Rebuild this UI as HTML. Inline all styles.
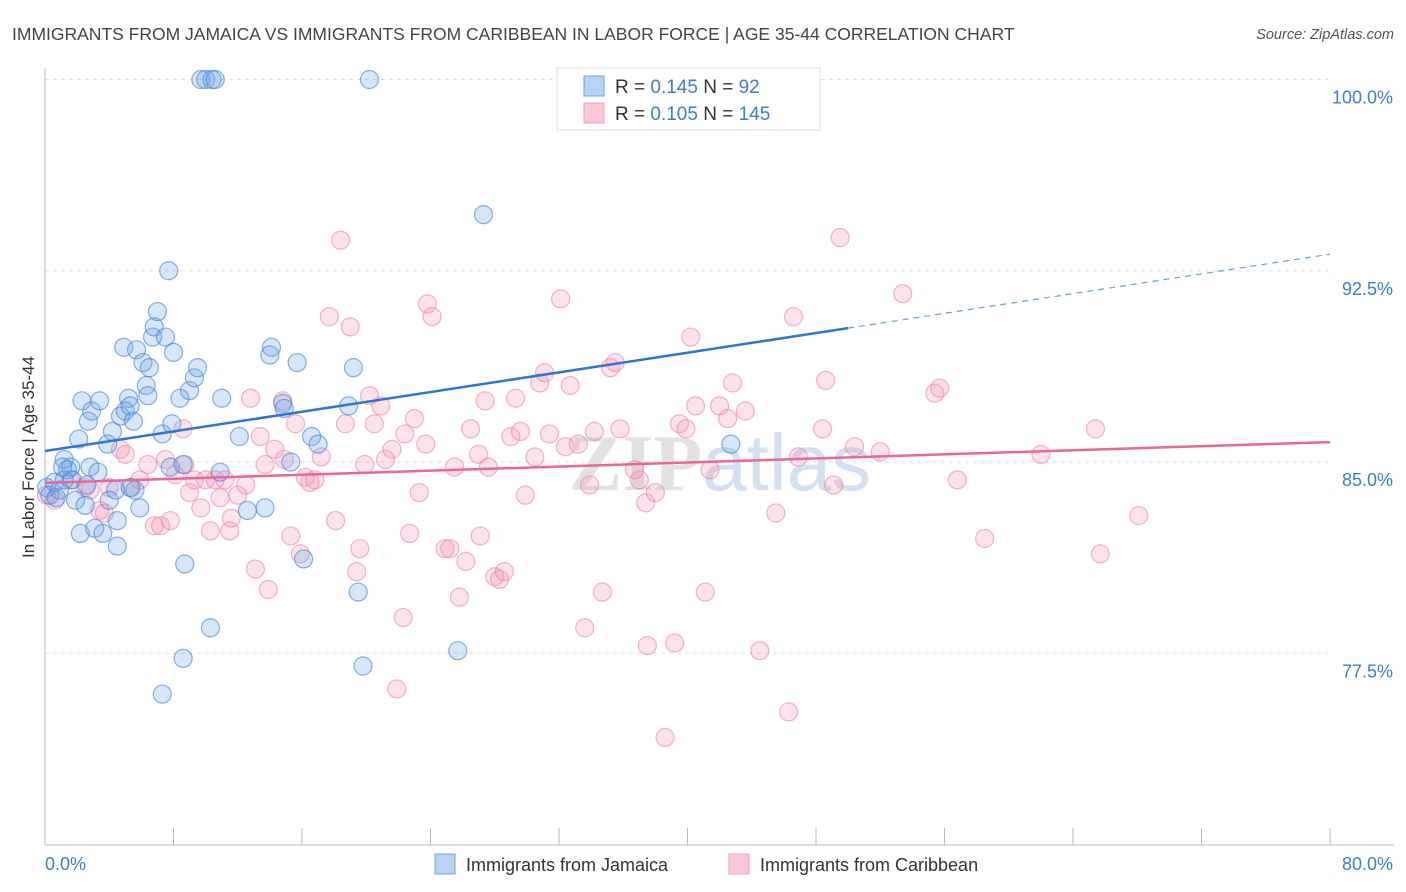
<!DOCTYPE html>
<html><head><meta charset="utf-8"><style>
body{margin:0;background:#fff;font-family:"Liberation Sans",sans-serif}
svg{display:block}
</style></head><body>
<svg id="chart" width="1406" height="892" xmlns="http://www.w3.org/2000/svg">
<text x="12" y="40" font-size="17.5" fill="#444">IMMIGRANTS FROM JAMAICA VS IMMIGRANTS FROM CARIBBEAN IN LABOR FORCE | AGE 35-44 CORRELATION CHART</text>
<text x="1394" y="39" font-size="14.5" fill="#555" text-anchor="end" font-style="italic">Source: ZipAtlas.com</text>
<text x="720" y="490" font-size="80" fill="#e2e2e2" text-anchor="middle" font-family="Liberation Serif" font-weight="bold">ZIP<tspan fill="#d2e0f2" font-family="Liberation Sans" font-weight="normal">atlas</tspan></text>
<g id="grid"></g>
<g id="axes"></g>
<g id="pts"></g>
<g id="trend"></g>
<text transform="translate(34,457) rotate(-90)" font-size="17" fill="#333" text-anchor="middle">In Labor Force | Age 35-44</text>
<g>
<rect x="557" y="68" width="263" height="62" fill="#fff" stroke="#ddd"/>
<rect x="584" y="76" width="20" height="20" fill="#b8d4f4" stroke="#6fa4e2"/>
<rect x="584" y="103" width="20" height="20" fill="#fcc8d6" stroke="#f0a0b8"/>
<text x="615" y="93" font-size="19" fill="#333">R = <tspan fill="#3d7bd6">0.145</tspan>   N = <tspan fill="#3d7bd6">  92</tspan></text>
<text x="615" y="120" font-size="19" fill="#333">R = <tspan fill="#3d7bd6">0.105</tspan>   N = <tspan fill="#3d7bd6">145</tspan></text>
</g>
<g>
<rect x="435" y="854" width="20" height="20" fill="#b8d4f4" stroke="#6fa4e2"/>
<text x="466" y="871" font-size="18" fill="#333">Immigrants from Jamaica</text>
<rect x="729" y="854" width="20" height="20" fill="#fcc8d6" stroke="#f0a0b8"/>
<text x="760" y="871" font-size="18" fill="#333">Immigrants from Caribbean</text>
</g>
</svg>
<script>
const jamX=[0.1,0.3,0.6,0.9,1.2,1.4,1.6,1.7,1.9,2.1,2.2,2.3,2.5,2.7,2.8,2.9,3.1,3.3,3.4,3.6,3.9,4.0,4.2,4.4,4.5,4.5,4.7,4.9,5.0,5.2,5.3,5.5,5.6,5.7,5.9,6.1,6.3,6.4,6.5,6.7,6.8,7.0,7.3,7.3,7.5,7.7,7.8,7.9,8.0,8.4,8.6,8.7,9.0,9.3,9.5,9.7,10.0,10.3,10.4,10.6,10.9,11.0,12.1,12.6,13.7,14.0,14.1,14.8,14.9,15.3,15.7,16.1,16.6,17.0,18.9,19.2,19.5,19.8,20.2,25.7,27.3,42.7,8.6,0.7,1.2,5.3,1.1,2.6];
const jamY=[84.0,83.7,84.2,83.9,85.1,84.7,84.8,84.3,83.5,85.9,82.2,87.4,83.3,86.6,84.8,87.0,82.4,84.6,87.4,82.2,85.7,83.5,86.2,83.9,82.7,81.7,86.8,89.5,87.0,87.5,87.2,86.6,83.9,89.4,83.2,88.9,88.0,87.6,88.7,89.9,90.3,90.9,86.1,75.9,89.9,92.5,84.8,86.5,89.3,87.5,84.9,81.0,87.8,88.3,88.7,100,100,78.5,100,100,84.6,87.5,86.0,83.1,83.2,89.2,89.5,87.3,87.1,85.0,88.9,81.2,86.0,85.7,87.2,88.7,79.9,77.0,100,77.6,94.7,85.7,77.3,83.6,84.3,84.0,84.8,84.1];
const carX=[0.1,0.6,1.6,2.5,2.8,3.4,3.7,4.0,4.7,5.0,5.4,5.9,6.4,6.8,7.2,7.5,7.8,8.1,8.6,8.7,9.0,9.3,9.7,10.0,10.3,10.6,10.9,11.2,11.5,11.6,12.0,12.5,12.8,13.1,13.4,13.7,13.9,14.3,14.8,14.9,15.3,15.6,15.9,16.2,16.5,16.8,17.2,17.7,18.1,18.4,18.7,19.0,19.4,19.6,19.9,20.2,20.5,20.9,21.2,21.6,21.9,22.3,22.4,22.7,23.0,23.3,23.7,23.8,24.1,24.9,25.2,25.5,25.8,26.2,26.5,27.0,27.1,27.4,27.6,28.0,28.3,28.6,29.0,29.3,29.6,29.9,30.5,30.8,31.1,31.4,32.1,32.4,32.7,33.2,33.6,33.9,34.2,34.7,35.2,35.5,35.8,36.7,37.0,37.4,37.5,38.0,38.6,39.2,39.5,39.9,40.2,40.5,41.1,41.4,42.0,42.5,42.8,43.6,44.5,45.5,46.3,46.6,46.9,48.4,48.6,49.1,49.5,50.4,52.0,53.4,55.4,55.7,56.8,58.5,62.0,65.4,65.7,68.1];
const carY=[83.7,83.5,84.3,84.0,83.9,83.1,83.0,84.0,85.5,85.3,84.0,84.3,84.9,82.5,82.5,85.1,82.7,84.5,86.3,84.9,83.8,84.3,83.2,84.3,82.3,84.3,83.6,84.3,82.3,82.8,83.7,84.1,87.5,80.8,86.0,84.9,80.0,85.5,87.4,85.1,82.1,86.5,81.4,84.4,84.2,84.3,85.2,90.7,82.7,93.7,86.5,90.3,80.7,81.6,84.9,87.6,86.5,87.2,85.1,85.5,76.1,78.9,86.1,82.2,86.7,83.8,85.7,91.2,90.7,81.6,81.6,84.8,79.7,81.1,86.3,85.3,82.1,87.4,84.8,80.5,80.4,80.7,86.0,87.5,86.2,83.7,85.2,88.1,88.5,86.1,91.4,85.6,88.0,85.7,78.5,84.1,86.2,79.9,88.7,88.9,86.3,84.7,84.3,83.4,77.8,83.8,74.2,77.9,86.5,86.3,89.9,87.2,79.9,84.7,87.2,86.7,88.1,87.0,77.6,83.0,75.2,90.7,85.2,86.3,88.2,84.1,93.8,85.6,85.4,91.6,87.7,87.9,84.3,82.0,85.3,86.3,81.4,82.9];
const yTicks=[100,92.5,85,77.5];
const yTickLabels=["100.0%","92.5%","85.0%","77.5%"];
const xTicks=[0,8,16,24,32,40,48,56,64,72,80];
const xTickLabels=["0.0%","80.0%"];
const jamTrend=[85.43,90.25,93.15]; // at x=0, x=50 (solid end), x=80
const carTrend=[84.18,85.78]; // at x=0, x=80

const NS="http://www.w3.org/2000/svg";
const X0=45,X1=1330,YTOP=79.5,PX_PER=25.5;
const sx=v=>X0+(v/80)*(X1-X0);
const sy=v=>YTOP+(100-v)*PX_PER;
function mk(tag,attrs,parent){const e=document.createElementNS(NS,tag);for(const k in attrs)e.setAttribute(k,attrs[k]);parent.appendChild(e);return e;}
const grid=document.getElementById('grid'),axes=document.getElementById('axes'),pts=document.getElementById('pts'),trend=document.getElementById('trend');
yTicks.forEach((t,i)=>{
  const l=mk('line',{x1:X0,x2:X1,y1:sy(t),y2:sy(t),stroke:'#ddd','stroke-dasharray':'4,4'},grid);
  
  
  const tx=mk('text',{x:1393,y:sy(t)+24,'font-size':18,fill:'#3d7bd6','text-anchor':'end'},grid);
  tx.textContent=yTickLabels[i];
  
  
});
const ya=mk('line',{x1:X0,x2:X0,y1:68,y2:845,stroke:'#bbb'},axes);


const xa=mk('line',{x1:X0,x2:1394,y1:845,y2:845,stroke:'#bbb'},axes);


xTicks.forEach(t=>{
  const l=mk('line',{x1:sx(t),x2:sx(t),y1:828,y2:845,stroke:'#bbb'},axes);
  
  
});
const xl0=mk('text',{x:45,y:870,'font-size':18,fill:'#3d7bd6'},axes);xl0.textContent=xTickLabels[0];


const xl1=mk('text',{x:1393,y:870,'font-size':18,fill:'#3d7bd6','text-anchor':'end'},axes);xl1.textContent=xTickLabels[1];


carX.forEach((x,i)=>{
  const c=mk('circle',{cx:sx(x),cy:sy(carY[i]),r:9,fill:'rgba(244,150,182,0.28)',stroke:'rgba(236,130,165,0.6)','stroke-width':1.2},pts);
  
  
});
jamX.forEach((x,i)=>{
  const c=mk('circle',{cx:sx(x),cy:sy(jamY[i]),r:9,fill:'rgba(110,165,230,0.28)',stroke:'rgba(70,135,215,0.65)','stroke-width':1.2},pts);
  
  
});
const t1=mk('line',{x1:sx(0),y1:sy(jamTrend[0]),x2:sx(50),y2:sy(jamTrend[1]),stroke:'#2f74d6','stroke-width':2.5},trend);


const t2=mk('line',{x1:sx(50),y1:sy(jamTrend[1]),x2:sx(80),y2:sy(jamTrend[2]),stroke:'#6a9de0','stroke-width':1.2,'stroke-dasharray':'6,5'},trend);


const t3=mk('line',{x1:sx(0),y1:sy(carTrend[0]),x2:sx(80),y2:sy(carTrend[1]),stroke:'#e8689a','stroke-width':2.5},trend);


</script>
</body></html>
